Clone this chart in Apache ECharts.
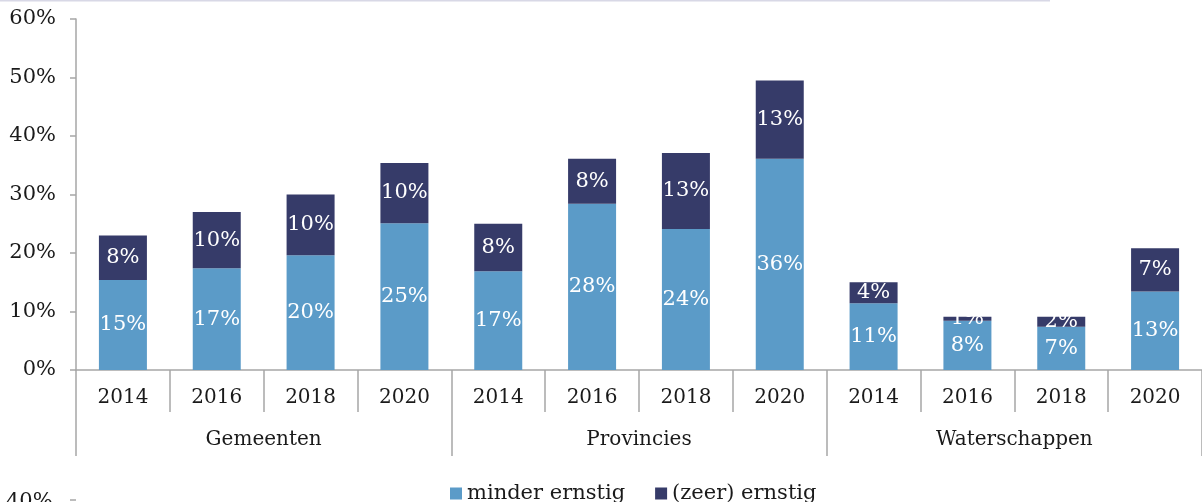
<!DOCTYPE html>
<html>
<head>
<meta charset="utf-8">
<script src="https://cdn.jsdelivr.net/npm/echarts@6/dist/echarts.min.js"></script>
<style>
	html, body { margin: 0; padding: 0; background: #fff; }
	#chart { width: 1202px; height: 502px; }
</style>
</head>
<body>
<div id="chart"></div>
<script>
const years = ['2014','2016','2018','2020','2014','2016','2018','2020','2014','2016','2018','2020'];
const groups = ['Gemeenten','Provincies','Waterschappen'];
const seriesNames = ['minder ernstig','(zeer) ernstig'];
const minderErnstig = [15.4, 17.4, 19.6, 25.1, 16.9, 28.4, 24.1, 36.1, 11.4, 8.4, 7.4, 13.4];
const zeerErnstig = [7.6, 9.6, 10.4, 10.3, 8.1, 7.7, 13.0, 13.4, 3.6, 0.7, 1.7, 7.4];
const yTicks = [0, 10, 20, 30, 40, 50, 60];

const fontName = 'DejaVu Serif';
const axisGray = '#a6a6a6';
const textColor = '#1a1a1a';
const colors = ['#5b9bc8', '#363b69'];

const chart = echarts.init(document.getElementById('chart'), null, {renderer: 'canvas'});

const barLabel = {
	show: true,
	position: 'inside',
	color: '#fff',
	fontFamily: fontName,
	fontSize: 21,
	formatter: p => Math.round(p.value) + '%'
};

chart.setOption({
	animation: false,
	textStyle: {fontFamily: fontName},
	grid: {left: 76, right: 0, top: 19, bottom: 132},
	legend: {
		top: 478,
		left: 445,
		itemWidth: 12,
		itemHeight: 12,
		itemGap: 30,
		icon: 'rect',
		textStyle: {fontFamily: fontName, fontSize: 21, color: textColor},
		data: seriesNames
	},
	xAxis: [
		{
			type: 'category',
			data: years,
			position: 'bottom',
			axisLine: {show: true, lineStyle: {color: axisGray, width: 1.5}},
			axisTick: {show: true, interval: 0, length: 42, lineStyle: {color: axisGray, width: 1.5}},
			axisLabel: {interval: 0, margin: 18, color: textColor, fontSize: 20, fontFamily: fontName},
			splitLine: {show: false}
		},
		{
			type: 'category',
			data: groups,
			position: 'bottom',
			offset: 0,
			axisLine: {show: false},
			axisTick: {show: true, interval: 0, length: 86, lineStyle: {color: axisGray, width: 1.5}},
			axisLabel: {interval: 0, margin: 60, color: textColor, fontSize: 20, fontFamily: fontName},
			splitLine: {show: false}
		}
	],
	yAxis: {
		type: 'value',
		min: yTicks[0],
		max: yTicks[yTicks.length - 1],
		interval: 10,
		axisLine: {show: true, lineStyle: {color: axisGray, width: 1.5}},
		axisTick: {show: true, length: 6, lineStyle: {color: axisGray, width: 1.5}},
		axisLabel: {formatter: '{value}%', margin: 20, color: textColor, fontSize: 21, fontFamily: fontName},
		splitLine: {show: false}
	},
	series: [
		{
			name: seriesNames[0],
			type: 'bar',
			stack: 'total',
			barWidth: 48,
			data: minderErnstig,
			itemStyle: {color: colors[0]},
			label: barLabel
		},
		{
			name: seriesNames[1],
			type: 'bar',
			stack: 'total',
			barWidth: 48,
			data: zeerErnstig,
			itemStyle: {color: colors[1]},
			label: barLabel
		}
	],
	graphic: [
		{
			type: 'line',
			shape: {x1: 0, y1: 0.5, x2: 1050, y2: 0.5},
			style: {stroke: '#d8d8e6', lineWidth: 2}
		},
		{
			type: 'text',
			left: 6,
			top: 491,
			style: {text: '40%', fontFamily: fontName, fontSize: 21, fill: textColor}
		},
		{
			type: 'line',
			shape: {x1: 70, y1: 500, x2: 76, y2: 500},
			style: {stroke: axisGray, lineWidth: 1.5}
		}
	]
});
</script>
</body>
</html>
